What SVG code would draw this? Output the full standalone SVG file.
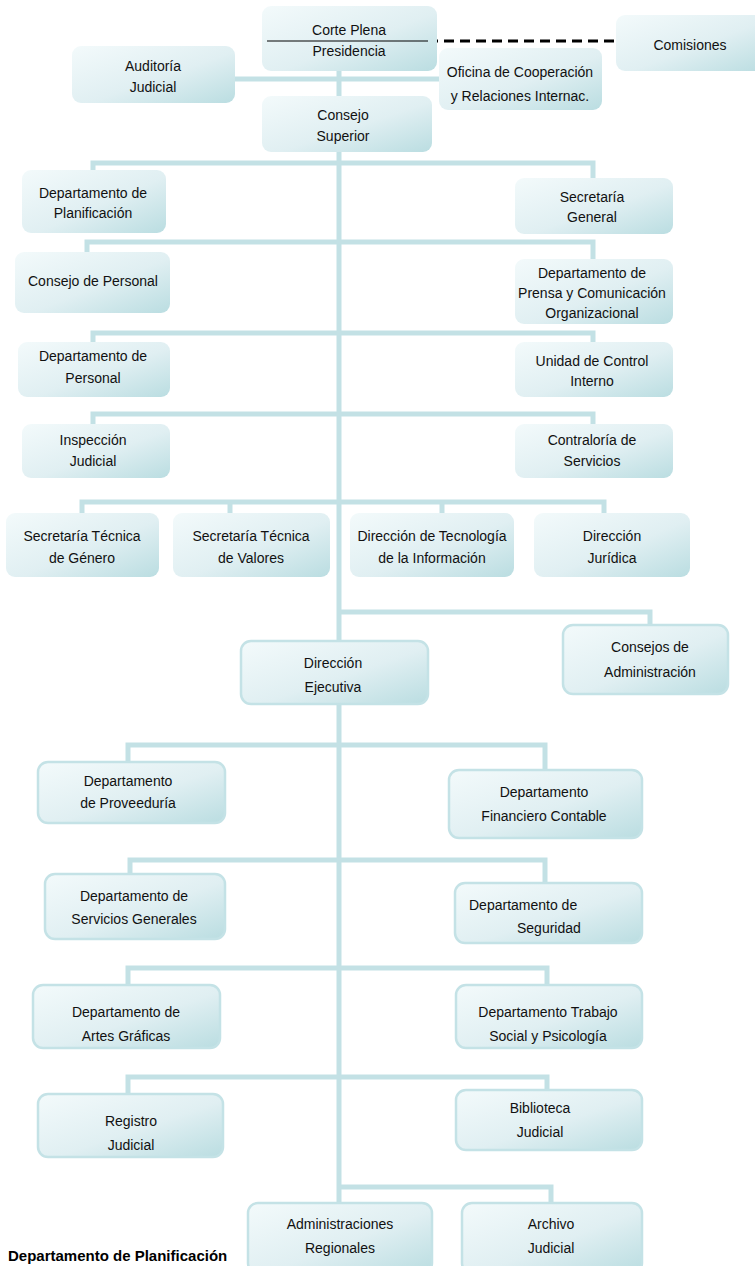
<svg xmlns="http://www.w3.org/2000/svg" width="755" height="1266" viewBox="0 0 755 1266">
<defs>
<linearGradient id="g" x1="0" y1="0" x2="1" y2="1">
<stop offset="0" stop-color="#f3fafb"/>
<stop offset="0.55" stop-color="#e0eff2"/>
<stop offset="1" stop-color="#badde1"/>
</linearGradient>
<style>
.b{fill:url(#g);}
.bs{fill:url(#g);stroke:#c4e2e6;stroke-width:2.5;}
.t{font-family:"Liberation Sans",Arial,sans-serif;font-size:14px;fill:#111;text-anchor:middle;}
.tl{font-family:"Liberation Sans",Arial,sans-serif;font-size:14px;fill:#111;}
.c{fill:none;stroke:#c3e1e5;stroke-width:5;}
</style>
</defs>
<rect width="755" height="1266" fill="#ffffff"/>
<g id="connectors">
<path class="c" d="M339 71 V1203"/>
<path class="c" d="M235 79 H439"/>
<path class="c" d="M93 170 V163 H593 V178"/>
<path class="c" d="M87 252 V242 H593 V259"/>
<path class="c" d="M93 342 V333 H593 V342"/>
<path class="c" d="M93 424 V414 H593 V424"/>
<path class="c" d="M82 513 V502 H604 V513 M230 502 V513 M442 502 V513"/>
<path class="c" d="M339 612 H650 V625"/>
<path class="c" d="M128 762 V745 H545 V770"/>
<path class="c" d="M130 874 V860 H545 V883"/>
<path class="c" d="M128 985 V968 H547 V985"/>
<path class="c" d="M128 1094 V1077 H547 V1090"/>
<path class="c" d="M339 1187 H551 V1203"/>
<path d="M428 41 H616" fill="none" stroke="#000" stroke-width="3" stroke-dasharray="10 6"/>
</g>
<g id="corte-plena">
<rect class="b" x="262" y="6" width="175" height="65" rx="9"/>
<line x1="267" y1="41" x2="428" y2="41" stroke="#000" stroke-width="1"/>
<text class="t" x="349" y="35">Corte Plena</text>
<text class="t" x="349" y="56">Presidencia</text>
</g>
<g id="comisiones">
<rect class="b" x="616" y="15" width="150" height="56" rx="9"/>
<text class="t" x="690" y="50">Comisiones</text>
</g>
<g id="auditoria">
<rect class="b" x="72" y="46" width="163" height="57" rx="9"/>
<text class="t" x="153" y="71">Auditoría</text>
<text class="t" x="153" y="92">Judicial</text>
</g>
<g id="oficina">
<rect class="b" x="439" y="48" width="163" height="62" rx="9"/>
<text class="t" x="520" y="77">Oficina de Cooperación</text>
<text class="t" x="520" y="101">y Relaciones Internac.</text>
</g>
<g id="consejo-superior">
<rect class="b" x="262" y="96" width="170" height="56" rx="9"/>
<text class="t" x="343" y="120">Consejo</text>
<text class="t" x="343" y="141">Superior</text>
</g>
<g id="planificacion">
<rect class="b" x="22" y="170" width="144" height="63" rx="9"/>
<text class="t" x="93" y="198">Departamento de</text>
<text class="t" x="93" y="218">Planificación</text>
</g>
<g id="secretaria-general">
<rect class="b" x="515" y="178" width="158" height="56" rx="9"/>
<text class="t" x="592" y="202">Secretaría</text>
<text class="t" x="592" y="222">General</text>
</g>
<g id="consejo-personal">
<rect class="b" x="15" y="252" width="155" height="61" rx="9"/>
<text class="t" x="93" y="286">Consejo de Personal</text>
</g>
<g id="prensa">
<rect class="b" x="515" y="259" width="158" height="65" rx="9"/>
<text class="t" x="592" y="278">Departamento de</text>
<text class="t" x="592" y="298">Prensa y Comunicación</text>
<text class="t" x="592" y="318">Organizacional</text>
</g>
<g id="depto-personal">
<rect class="b" x="18" y="342" width="152" height="55" rx="9"/>
<text class="t" x="93" y="361">Departamento de</text>
<text class="t" x="93" y="383">Personal</text>
</g>
<g id="control-interno">
<rect class="b" x="515" y="342" width="158" height="55" rx="9"/>
<text class="t" x="592" y="366">Unidad de Control</text>
<text class="t" x="592" y="386">Interno</text>
</g>
<g id="inspeccion">
<rect class="b" x="22" y="424" width="148" height="54" rx="9"/>
<text class="t" x="93" y="445">Inspección</text>
<text class="t" x="93" y="466">Judicial</text>
</g>
<g id="contraloria">
<rect class="b" x="515" y="424" width="158" height="54" rx="9"/>
<text class="t" x="592" y="445">Contraloría de</text>
<text class="t" x="592" y="466">Servicios</text>
</g>
<g id="genero">
<rect class="b" x="6" y="513" width="153" height="64" rx="9"/>
<text class="t" x="82" y="541">Secretaría Técnica</text>
<text class="t" x="82" y="563">de Género</text>
</g>
<g id="valores">
<rect class="b" x="173" y="513" width="157" height="64" rx="9"/>
<text class="t" x="251" y="541">Secretaría Técnica</text>
<text class="t" x="251" y="563">de Valores</text>
</g>
<g id="tecnologia">
<rect class="b" x="350" y="513" width="164" height="64" rx="9"/>
<text class="t" x="432" y="541">Dirección de Tecnología</text>
<text class="t" x="432" y="563">de la Información</text>
</g>
<g id="juridica">
<rect class="b" x="534" y="513" width="156" height="64" rx="9"/>
<text class="t" x="612" y="541">Dirección</text>
<text class="t" x="612" y="563">Jurídica</text>
</g>
<g id="consejos-administracion">
<rect class="bs" x="563" y="625" width="165" height="69" rx="10"/>
<text class="t" x="650" y="652">Consejos de</text>
<text class="t" x="650" y="677">Administración</text>
</g>
<g id="direccion-ejecutiva">
<rect class="bs" x="241" y="641" width="187" height="63" rx="10"/>
<text class="t" x="333" y="668">Dirección</text>
<text class="t" x="333" y="692">Ejecutiva</text>
</g>
<g id="proveeduria">
<rect class="bs" x="38" y="762" width="187" height="61" rx="10"/>
<text class="t" x="128" y="786">Departamento</text>
<text class="t" x="128" y="808">de Proveeduría</text>
</g>
<g id="financiero">
<rect class="bs" x="449" y="770" width="193" height="68" rx="10"/>
<text class="t" x="544" y="797">Departamento</text>
<text class="t" x="544" y="821">Financiero Contable</text>
</g>
<g id="servicios-generales">
<rect class="bs" x="45" y="874" width="180" height="65" rx="10"/>
<text class="t" x="134" y="901">Departamento de</text>
<text class="t" x="134" y="924">Servicios Generales</text>
</g>
<g id="seguridad">
<rect class="bs" x="455" y="883" width="187" height="60" rx="10"/>
<text class="tl" x="469" y="910">Departamento de</text>
<text class="tl" x="517" y="933">Seguridad</text>
</g>
<g id="artes-graficas">
<rect class="bs" x="33" y="985" width="187" height="63" rx="10"/>
<text class="t" x="126" y="1017">Departamento de</text>
<text class="t" x="126" y="1041">Artes Gráficas</text>
</g>
<g id="trabajo-social">
<rect class="bs" x="456" y="985" width="186" height="63" rx="10"/>
<text class="t" x="548" y="1017">Departamento Trabajo</text>
<text class="t" x="548" y="1041">Social y Psicología</text>
</g>
<g id="registro-judicial">
<rect class="bs" x="38" y="1094" width="185" height="63" rx="10"/>
<text class="t" x="131" y="1126">Registro</text>
<text class="t" x="131" y="1150">Judicial</text>
</g>
<g id="biblioteca-judicial">
<rect class="bs" x="456" y="1090" width="186" height="60" rx="10"/>
<text class="t" x="540" y="1113">Biblioteca</text>
<text class="t" x="540" y="1137">Judicial</text>
</g>
<g id="administraciones-regionales">
<rect class="bs" x="248" y="1203" width="184" height="70" rx="10"/>
<text class="t" x="340" y="1229">Administraciones</text>
<text class="t" x="340" y="1253">Regionales</text>
</g>
<g id="archivo-judicial">
<rect class="bs" x="462" y="1203" width="180" height="70" rx="10"/>
<text class="t" x="551" y="1229">Archivo</text>
<text class="t" x="551" y="1253">Judicial</text>
</g>
<text x="8" y="1261" font-family="'Liberation Sans',Arial,sans-serif" font-size="15" font-weight="bold" fill="#000">Departamento de Planificación</text>
</svg>
